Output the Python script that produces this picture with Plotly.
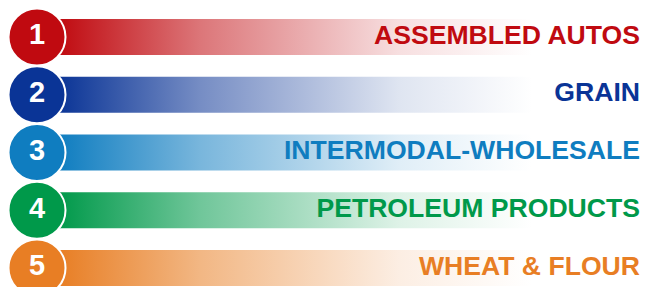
import plotly.graph_objects as go

# ---- data ----
ranks = [1, 2, 3, 4, 5]
labels = ["ASSEMBLED AUTOS", "GRAIN", "INTERMODAL-WHOLESALE", "PETROLEUM PRODUCTS", "WHEAT & FLOUR"]
colors = ["#C00A10", "#0A3496", "#0F7DC0", "#00994A", "#E87E24"]

# ---- layout constants (pixels on x axis, rank units on y axis) ----
W, H = 645, 287
CIRCLE_X = 37
BAR_START = 58
BAR_END = 532
LABEL_X = 640
ROW_PX = 57.75
TOP_PX = 37
BAR_HALF = 18 / ROW_PX


def mix(hexcol, t):
    """blend hex colour toward white by fraction t"""
    h = hexcol.lstrip("#")
    r, g, b = (int(h[i:i + 2], 16) for i in (0, 2, 4))
    r, g, b = (round(c + (255 - c) * t) for c in (r, g, b))
    return f"rgb({r},{g},{b})"


fig = go.Figure()

for r, lab, col in zip(ranks, labels, colors):
    y0, y1 = r - BAR_HALF, r + BAR_HALF
    fig.add_trace(go.Scatter(
        x=[BAR_START, BAR_END, BAR_END, BAR_START, BAR_START],
        y=[y0, y0, y1, y1, y0],
        mode="lines", line=dict(width=0),
        fill="toself",
        fillgradient=dict(type="horizontal",
                          colorscale=[[0, mix(col, 0.0)], [0.3, mix(col, 0.44)],
                                      [0.72, mix(col, 0.87)], [1, "rgb(255,255,255)"]]),
        hoverinfo="skip", showlegend=False,
    ))

# circles with numbers
fig.add_trace(go.Scatter(
    x=[CIRCLE_X] * len(ranks), y=ranks,
    mode="markers+text",
    marker=dict(size=57, color=colors, line=dict(color="white", width=2)),
    text=[str(r) for r in ranks],
    textposition="middle center",
    textfont=dict(family="Liberation Sans, Arial", size=29, color="white", weight="bold"),
    hoverinfo="skip", showlegend=False, cliponaxis=False,
))

# labels
fig.add_trace(go.Scatter(
    x=[LABEL_X] * len(ranks), y=ranks,
    mode="text",
    text=labels,
    textposition="middle left",
    textfont=dict(family="Liberation Sans, Arial", size=26.6, color=colors, weight="bold"),
    hoverinfo="skip", showlegend=False, cliponaxis=False,
))

y_top = 1 - TOP_PX / ROW_PX
y_bot = y_top + H / ROW_PX
fig.update_layout(
    width=W, height=H,
    margin=dict(l=0, r=0, t=0, b=0),
    paper_bgcolor="white", plot_bgcolor="white",
    xaxis=dict(range=[0, W], visible=False, fixedrange=True),
    yaxis=dict(range=[y_bot, y_top], visible=False, fixedrange=True),
)

fig.write_html("out.html", config={"displayModeBar": False},
               post_script="document.body.style.margin='0';document.body.style.overflow='hidden';")
